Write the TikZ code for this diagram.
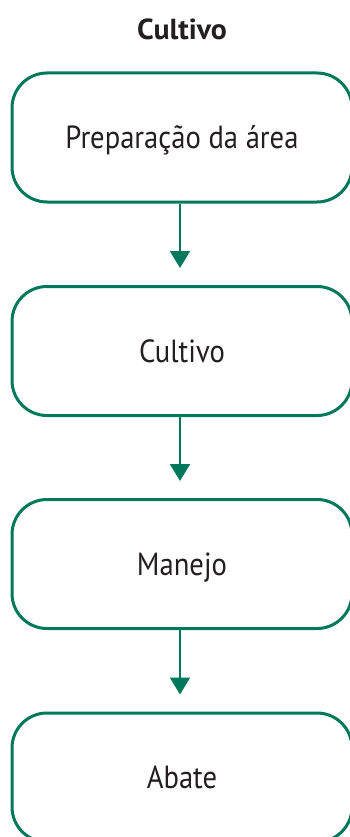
\documentclass[tikz,border=0pt]{standalone}
\usepackage{fontspec}
\setmainfont{PT Sans}[FakeStretch=0.895]
\newfontfamily\titlefont{PT Sans}[FakeStretch=1.03]
\usetikzlibrary{arrows.meta,positioning}
\definecolor{leafgreen}{RGB}{0,120,92}
\definecolor{inkgray}{RGB}{35,31,32}

\begin{document}
\begin{tikzpicture}[x=1pt,y=1pt,yscale=-1,
  boxstep/.style={draw=leafgreen,line width=3pt,rounded corners=35pt,
    minimum width=340pt,minimum height=129pt,inner sep=0pt,
    text height=22.4pt,text depth=0pt,
    text=inkgray,font=\fontsize{32}{38}\selectfont},
  flowarrow/.style={draw=leafgreen,line width=2pt,
    -{Triangle[width=20pt,length=17pt]},shorten >=17pt}]
		\useasboundingbox (0,0) rectangle (350,837);
		
		% title
		\node (title) at (182,40) [anchor=base,inner sep=0pt,text=inkgray,font=\fontsize{29}{34}\titlefont\bfseries] {Cultivo};
		
		% steps
		\node (prep) at (182,137.5) [boxstep] {Preparação da área};
		\node (cult) at (182,351) [boxstep] {Cultivo};
		\node (mane) at (182,564) [boxstep] {Manejo};
		\node (abat) at (182,777.5) [boxstep] {Abate};
		
		% arrows
		\draw [flowarrow] (prep.south -| 180,0) -- (cult.north -| 180,0);
		\draw [flowarrow] (cult.south -| 180,0) -- (mane.north -| 180,0);
		\draw [flowarrow] (mane.south -| 180,0) -- (abat.north -| 180,0);
		
\end{tikzpicture}
\end{document}
